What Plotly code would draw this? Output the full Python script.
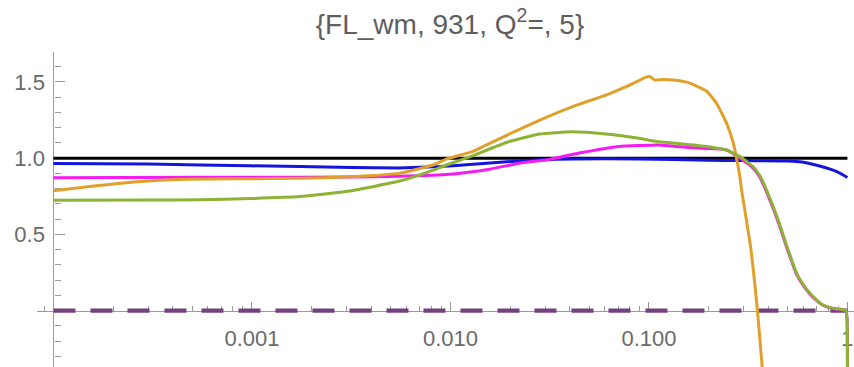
import math
import plotly.graph_objects as go

# ---- series data (x on a log scale) ----
black_x = [1e-4, 1.0]
black_y = [1.0, 1.0]

blue_x = [1e-4, 3e-4, 5.5e-4, 1.74e-3, 3.2e-3, 5.5e-3, 8.9e-3, 0.013, 0.0192, 0.0282,
          0.0416, 0.089, 0.2, 0.29, 0.5, 0.59, 0.74, 0.89, 1.0]
blue_y = [0.965, 0.962, 0.955, 0.945, 0.939, 0.936, 0.945, 0.96, 0.976, 0.99,
          0.995, 0.995, 0.987, 0.984, 0.982, 0.975, 0.945, 0.91, 0.873]

magenta_x = [1e-4, 5.5e-4, 1e-3, 3.1e-3, 5.5e-3, 9.9e-3, 0.0157, 0.023, 0.031, 0.046,
             0.0706, 0.112, 0.159, 0.195, 0.244, 0.288, 0.335, 0.36, 0.38, 0.40,
             0.423, 0.46, 0.496, 0.555, 0.60, 0.647, 0.70, 0.755, 0.82, 0.881,
             0.98, 0.995, 1.0]
magenta_y = [0.872, 0.875, 0.875, 0.876, 0.882, 0.895, 0.928, 0.97, 0.99, 1.037,
             1.077, 1.087, 1.07, 1.064, 1.055, 1.0, 0.935, 0.88, 0.818, 0.748,
             0.67, 0.538, 0.41, 0.237, 0.164, 0.109, 0.066, 0.034, 0.018, 0.01,
             0.002, -0.05, -1.0]

orange_x = [1e-4, 1.48e-4, 2.64e-4, 4.71e-4, 8.4e-4, 1.75e-3, 3.12e-3, 5.57e-3, 8.17e-3,
            0.0096, 0.013, 0.0192, 0.0282, 0.0416, 0.0612, 0.0773, 0.0894, 0.096, 0.101,
            0.107, 0.118, 0.1324, 0.158, 0.195, 0.219, 0.246, 0.266, 0.277, 0.287,
            0.293, 0.325, 0.352, 0.372, 0.39]
orange_y = [0.787, 0.813, 0.846, 0.862, 0.865, 0.868, 0.878, 0.902, 0.955,
            0.995, 1.045, 1.15, 1.25, 1.34, 1.415, 1.47, 1.51, 1.53, 1.535,
            1.512, 1.515, 1.512, 1.495, 1.44, 1.36, 1.23, 1.10, 0.99, 0.88,
            0.79, 0.42, 0.0, -0.37, -0.65]

green_x = [1e-4, 3e-4, 5.5e-4, 9.8e-4, 1.74e-3, 3.1e-3, 5.55e-3, 7.56e-3, 9.55e-3,
           0.0129, 0.0191, 0.028, 0.041, 0.0608, 0.089, 0.112, 0.1306, 0.195, 0.244,
           0.288, 0.335, 0.36, 0.38, 0.40, 0.423, 0.46, 0.496, 0.555, 0.60, 0.647,
           0.70, 0.755, 0.82, 0.881, 0.98, 0.995, 1.0]
green_y = [0.724, 0.725, 0.728, 0.735, 0.748, 0.785, 0.85, 0.905, 0.955,
           1.015, 1.103, 1.158, 1.173, 1.158, 1.13, 1.107, 1.1, 1.077, 1.055,
           1.01, 0.944, 0.89, 0.83, 0.76, 0.682, 0.55, 0.42, 0.245, 0.17, 0.114,
           0.07, 0.037, 0.02, 0.012, 0.003, -0.05, -1.0]

zero_x = [1e-4, 1.0]
zero_y = [0.0, 0.0]

# ---- axis tick labels ----
x_tick_vals = [1e-3, 1e-2, 1e-1, 1.0]
x_tick_text = ["0.001", "0.010", "0.100", "1"]
y_tick_vals = [0.5, 1.0, 1.5]
y_tick_text = ["0.5", "1.0", "1.5"]

# ---- plot ranges ----
X_LOG_RANGE = [-4.083, 0.033]
Y_RANGE = [-0.369, 1.696]
X_ORIGIN = 1e-4

minor_x = [k * 10.0 ** e for e in range(-5, 1) for k in range(2, 10)]

AXIS_COLOR = "#9a9a9a"
LABEL_COLOR = "#6a6a6a"
FONT = "Arial, Liberation Sans, sans-serif"

fig = go.Figure()


def add_line(x, y, color, width=3.0, dash=None, shape="spline"):
    fig.add_trace(go.Scatter(
        x=x, y=y, mode="lines",
        line=dict(color=color, width=width, dash=dash, shape=shape, smoothing=0.4),
        hoverinfo="skip",
    ))


add_line(black_x, black_y, "#000000", shape="linear")
add_line(blue_x, blue_y, "#1414dc")
add_line(zero_x, zero_y, "#74417f", width=4.2, dash="22px,15px", shape="linear")
add_line(magenta_x, magenta_y, "#f41cf0")
add_line(orange_x, orange_y, "#e1a02c")
add_line(green_x, green_y, "#8db234")

x_pos_of_y_axis = (math.log10(X_ORIGIN) - X_LOG_RANGE[0]) / (X_LOG_RANGE[1] - X_LOG_RANGE[0])
y_pos_of_x_axis = (0.0 - Y_RANGE[0]) / (Y_RANGE[1] - Y_RANGE[0])

fig.update_layout(
    width=854, height=367,
    margin=dict(l=37, r=0, t=52, b=0),
    paper_bgcolor="white", plot_bgcolor="white",
    showlegend=False,
    font=dict(family=FONT, color=LABEL_COLOR),
    title=dict(
        text="{FL_wm, 931, Q<sup>2</sup>=, 5}",
        xref="container", yref="container",
        x=450 / 854, y=1 - 24 / 367,
        xanchor="center", yanchor="middle",
        font=dict(family=FONT, size=28, color="#5e5e5e"),
    ),
    xaxis=dict(
        type="log", range=X_LOG_RANGE,
        anchor="free", position=y_pos_of_x_axis,
        layer="below traces",
        showline=True, linecolor=AXIS_COLOR, linewidth=1.3,
        showgrid=False, zeroline=False,
        ticks="inside", ticklen=9, tickwidth=1.2, tickcolor=AXIS_COLOR,
        tickmode="array", tickvals=x_tick_vals, ticktext=x_tick_text,
        tickfont=dict(family=FONT, size=22, color=LABEL_COLOR),
        ticklabelstandoff=8,
        minor=dict(ticks="inside", ticklen=5, tickwidth=1.0, tickcolor=AXIS_COLOR,
                   tickmode="array", tickvals=minor_x),
    ),
    yaxis=dict(
        range=Y_RANGE,
        anchor="free", position=x_pos_of_y_axis,
        layer="below traces",
        showline=True, linecolor=AXIS_COLOR, linewidth=1.3,
        showgrid=False, zeroline=False,
        ticks="inside", ticklen=10, tickwidth=1.2, tickcolor=AXIS_COLOR,
        tickmode="array", tickvals=y_tick_vals, ticktext=y_tick_text,
        tickfont=dict(family=FONT, size=22, color=LABEL_COLOR),
        ticklabelstandoff=4,
        minor=dict(ticks="inside", ticklen=6, tickwidth=1.0, tickcolor=AXIS_COLOR,
                   dtick=0.1, tick0=0.0),
    ),
)

fig.write_html("out.html")
